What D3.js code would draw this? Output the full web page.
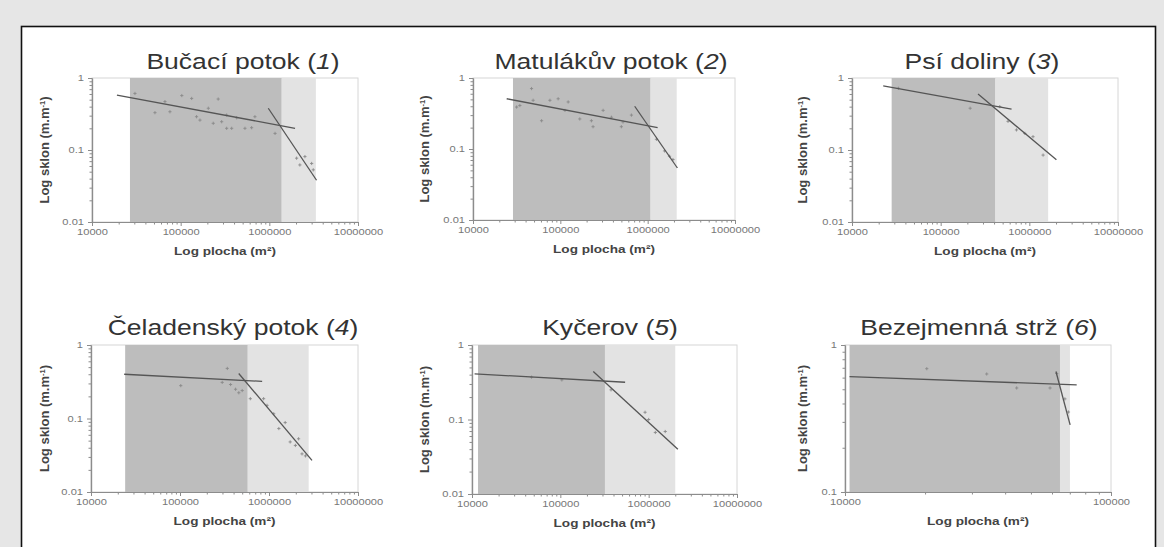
<!DOCTYPE html>
<html><head><meta charset="utf-8">
<script src="https://cdn.jsdelivr.net/npm/d3@7"></script>
<style>
body{margin:0;background:#e6e6e6;}
svg{display:block;font-family:"Liberation Sans",Arial,sans-serif;}
</style>
</head><body>
<svg id="c" width="1164" height="547"></svg>
<script>
// ---------- DATA ----------
const titles = ["Bučací potok", "Matulákův potok", "Psí doliny", "Čeladenský potok", "Kyčerov", "Bezejmenná strž"];
const titleNumbers = ["1", "2", "3", "4", "5", "6"];
const xTickLabels = ["10000", "100000", "1000000", "10000000"];
const xTickLabels6 = ["10000", "100000"];
const yTickLabels = ["0.01", "0.1", "1"];
const yTickLabels6 = ["0.1", "1"];
const xAxisTitle = "Log plocha (m²)";
const yAxisTitle = "Log sklon (m.m";

// Panel 1 – Bučací potok
const area1 = [30500, 51300, 66500, 75700, 103000, 133000, 151000, 165000, 205000, 233000, 265000, 290000, 330000, 330000, 376000, 428000, 531000, 631000, 688000, 1160000, 2030000, 2210000, 2520000, 3000000, 3130000];
const slope1 = [0.61, 0.33, 0.47, 0.34, 0.57, 0.52, 0.29, 0.26, 0.38, 0.235, 0.51, 0.247, 0.20, 0.306, 0.20, 0.28, 0.20, 0.204, 0.29, 0.17, 0.077, 0.062, 0.081, 0.065, 0.053];
const bands1 = [26800, 1380000, 3350000];
const fitUpper1 = [[19100, 0.58], [1950000, 0.20]];
const fitLower1 = [[973000, 0.38], [3410000, 0.038]];

// Panel 2 – Matulákův potok
const area2 = [31600, 34400, 46800, 48800, 61000, 76000, 94400, 113000, 123000, 167000, 227000, 237000, 309000, 385000, 500000, 522000, 652000, 1260000, 1560000, 1780000, 1950000];
const slope2 = [0.39, 0.41, 0.71, 0.485, 0.25, 0.485, 0.51, 0.35, 0.46, 0.265, 0.25, 0.206, 0.35, 0.28, 0.206, 0.24, 0.30, 0.137, 0.094, 0.079, 0.071];
const bands2 = [28700, 1080000, 2150000];
const fitUpper2 = [[24300, 0.51], [1300000, 0.20]];
const fitLower2 = [[710000, 0.40], [2190000, 0.054]];

// Panel 3 – Psí doliny
const area3 = [33400, 215000, 464000, 575000, 716000, 890000, 1100000, 1430000];
const slope3 = [0.72, 0.38, 0.40, 0.25, 0.19, 0.17, 0.153, 0.085];
const bands3 = [28000, 415000, 1630000];
const fitUpper3 = [[22500, 0.78], [630000, 0.37]];
const fitLower3 = [[264000, 0.60], [2020000, 0.073]];

// Panel 4 – Čeladenský potok
const area4 = [102000, 298000, 340000, 370000, 421000, 458000, 500000, 617000, 870000, 950000, 1130000, 1290000, 1520000, 1730000, 1980000, 2150000, 2350000, 2570000];
const slope4 = [0.28, 0.31, 0.48, 0.29, 0.25, 0.224, 0.24, 0.186, 0.186, 0.151, 0.116, 0.073, 0.088, 0.048, 0.043, 0.053, 0.033, 0.031];
const bands4 = [24200, 577000, 2790000];
const fitUpper4 = [[23600, 0.40], [838000, 0.32]];
const fitLower4 = [[457000, 0.41], [3040000, 0.027]];

// Panel 5 – Kyčerov
const area5 = [47200, 104000, 375000, 910000, 1000000, 1190000, 1540000];
const slope5 = [0.37, 0.34, 0.25, 0.125, 0.10, 0.067, 0.069];
const bands5 = [11700, 320000, 2000000];
const fitUpper5 = [[10700, 0.41], [541000, 0.316]];
const fitLower5 = [[236000, 0.44], [2140000, 0.040]];

// Panel 6 – Bezejmenná strž
const area6 = [20300, 34100, 44200, 59000, 62500, 67100, 69200];
const slope6 = [0.69, 0.635, 0.51, 0.51, 0.64, 0.43, 0.35];
const bands6 = [10400, 64300, 70100];
const fitUpper6 = [[10400, 0.61], [74300, 0.535]];
const fitLower6 = [[62100, 0.66], [70200, 0.286]];

const xDomain = [1e4, 1e7], xDomain6 = [1e4, 1e5];
const yDomain = [0.01, 1], yDomain6 = [0.1, 1];

const panels = [
  {area: area1, slope: slope1, bands: bands1, fits: [fitUpper1, fitLower1], xd: xDomain, yd: yDomain, xl: xTickLabels, yl: yTickLabels},
  {area: area2, slope: slope2, bands: bands2, fits: [fitUpper2, fitLower2], xd: xDomain, yd: yDomain, xl: xTickLabels, yl: yTickLabels},
  {area: area3, slope: slope3, bands: bands3, fits: [fitUpper3, fitLower3], xd: xDomain, yd: yDomain, xl: xTickLabels, yl: yTickLabels},
  {area: area4, slope: slope4, bands: bands4, fits: [fitUpper4, fitLower4], xd: xDomain, yd: yDomain, xl: xTickLabels, yl: yTickLabels},
  {area: area5, slope: slope5, bands: bands5, fits: [fitUpper5, fitLower5], xd: xDomain, yd: yDomain, xl: xTickLabels, yl: yTickLabels},
  {area: area6, slope: slope6, bands: bands6, fits: [fitUpper6, fitLower6], xd: xDomain6, yd: yDomain6, xl: xTickLabels6, yl: yTickLabels6}
];

// ---------- LAYOUT ----------
const layout = [
  {x0: 92, x1: 358, y0: 78, y1: 222, tx: 243, ty: 69, ylx: 45},
  {x0: 473, x1: 735, y0: 78, y1: 220, tx: 611, ty: 69, ylx: 425},
  {x0: 852, x1: 1118, y0: 78, y1: 222, tx: 982, ty: 69, ylx: 803},
  {x0: 91, x1: 358, y0: 345, y1: 492, tx: 233, ty: 335, ylx: 45},
  {x0: 472, x1: 737, y0: 345, y1: 494, tx: 610, ty: 335, ylx: 425},
  {x0: 845, x1: 1111, y0: 345, y1: 492, tx: 979, ty: 335, ylx: 803}
];
const SX = 1.235;

const svg = d3.select("#c");
svg.append("rect").attr("x", 0).attr("y", 0).attr("width", 1164).attr("height", 547).attr("fill", "#e6e6e6");
svg.append("rect").attr("x", 21.5).attr("y", 26.5).attr("width", 1134).attr("height", 580)
  .attr("fill", "#ffffff").attr("stroke", "#111").attr("stroke-width", 1.6);

function minorTicks(domain) {
  const out = [];
  const lo = Math.round(Math.log10(domain[0])), hi = Math.round(Math.log10(domain[1]));
  for (let e = lo; e < hi; e++) for (let m = 2; m <= 9; m++) out.push(m * Math.pow(10, e));
  return out;
}
function majorTicks(domain) {
  const out = [];
  const lo = Math.round(Math.log10(domain[0])), hi = Math.round(Math.log10(domain[1]));
  for (let e = lo; e <= hi; e++) out.push(Math.pow(10, e));
  return out;
}

panels.forEach((p, i) => {
  const L = layout[i];
  const g = svg.append("g");
  const x = d3.scaleLog().domain(p.xd).range([L.x0, L.x1]);
  const y = d3.scaleLog().domain(p.yd).range([L.y1, L.y0]);

  // plot area
  g.append("rect").attr("x", L.x0).attr("y", L.y0).attr("width", L.x1 - L.x0).attr("height", L.y1 - L.y0)
    .attr("fill", "#fff").attr("stroke", "#d6d6d6").attr("stroke-width", 1);

  // bands
  const bandFill = ["#bdbdbd", "#e3e3e3"];
  [[p.bands[0], p.bands[1]], [p.bands[1], p.bands[2]]].forEach((b, k) => {
    g.append("rect").attr("x", x(b[0])).attr("y", L.y0).attr("width", x(b[1]) - x(b[0])).attr("height", L.y1 - L.y0)
      .attr("fill", bandFill[k]);
  });

  // points
  const pts = p.area.map((a, k) => [a, p.slope[k]]);
  g.selectAll(".pt").data(pts).enter().append("path")
    .attr("d", "M-1.6,0H1.6M0,-1.6V1.6")
    .attr("transform", d => `translate(${x(d[0])},${y(d[1])})`)
    .attr("stroke", "#8a8a8a").attr("stroke-width", 0.9).attr("fill", "none");

  // fitted lines
  const line = d3.line().x(d => x(d[0])).y(d => y(d[1]));
  p.fits.forEach(f => {
    g.append("path").attr("d", line(f)).attr("stroke", "#555").attr("stroke-width", 1.3).attr("fill", "none");
  });

  // axes
  const gx = g.append("g").attr("transform", `translate(0,${L.y1})`)
    .call(d3.axisBottom(x).tickValues(majorTicks(p.xd)).tickFormat((d, k) => p.xl[k]).tickSize(4).tickSizeOuter(0).tickPadding(3));
  const gxm = g.append("g").attr("transform", `translate(0,${L.y1})`)
    .call(d3.axisBottom(x).tickValues(minorTicks(p.xd)).tickFormat("").tickSize(2.5).tickSizeOuter(0));
  const gy = g.append("g").attr("transform", `translate(${L.x0},0)`)
    .call(d3.axisLeft(y).tickValues(majorTicks(p.yd)).tickFormat((d, k) => p.yl[k]).tickSize(4).tickSizeOuter(0).tickPadding(4));
  const gym = g.append("g").attr("transform", `translate(${L.x0},0)`)
    .call(d3.axisLeft(y).tickValues(minorTicks(p.yd)).tickFormat("").tickSize(2.5).tickSizeOuter(0));
  [gx, gxm, gy, gym].forEach(a => {
    a.select(".domain").attr("stroke", "#8c8c8c").attr("stroke-width", 1.2);
    a.selectAll(".tick line").attr("stroke", "#8c8c8c");
  });
  gx.selectAll(".tick text").attr("font-size", 9).attr("fill", "#777").attr("font-family", "Liberation Sans, Arial, sans-serif")
    .attr("transform", `scale(${SX},1)`);
  gy.selectAll(".tick text").attr("font-size", 9).attr("fill", "#777").attr("font-family", "Liberation Sans, Arial, sans-serif")
    .each(function() {
      const t = d3.select(this);
      const xx = +t.attr("x");
      t.attr("x", 0).attr("transform", `translate(${xx},0) scale(${SX},1)`);
    });

  // title
  const tt = g.append("text").attr("transform", `translate(${L.tx},${L.ty}) scale(${SX},1)`)
    .attr("text-anchor", "middle").attr("font-size", 21.5).attr("fill", "#333");
  tt.append("tspan").text(titles[i] + " (");
  tt.append("tspan").attr("font-style", "italic").text(titleNumbers[i]);
  tt.append("tspan").text(")");

  // x axis title
  g.append("text").attr("transform", `translate(${(L.x0 + L.x1) / 2},${L.y1 + 33}) scale(${SX},1)`)
    .attr("text-anchor", "middle").attr("font-size", 11).attr("font-weight", "bold").attr("fill", "#444")
    .text(xAxisTitle);

  // y axis title
  const yt = g.append("text").attr("transform", `translate(${L.ylx + 4},${(L.y0 + L.y1) / 2}) rotate(-90)`)
    .attr("text-anchor", "middle").attr("font-size", 13).attr("font-weight", "bold").attr("fill", "#444");
  yt.append("tspan").text(yAxisTitle);
  yt.append("tspan").attr("font-size", 7.5).attr("dy", -4).text("-1");
  yt.append("tspan").attr("dy", 4).text(")");
});
</script>
</body></html>
